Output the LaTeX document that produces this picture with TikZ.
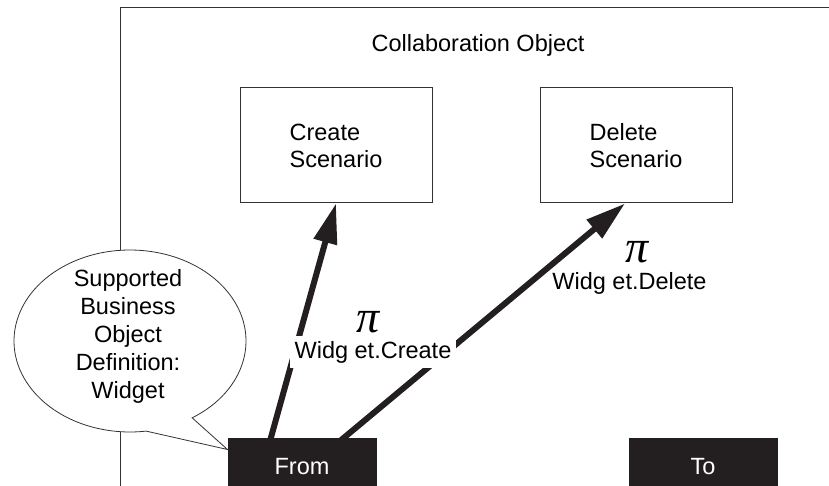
\documentclass[tikz,border=0pt]{standalone}
\usepackage{fontspec}
\setmainfont{Liberation Sans}
\newfontfamily\pifont{Liberation Serif}
\usepackage{xcolor}
\definecolor{PORTCOLOR}{HTML}{231F20}
\colorlet{LINECOLOR}{black!80}
\usepackage{tikz}
\usetikzlibrary{arrows.meta,positioning,calc}
\tikzset{
  basic-style/.style = {
    rectangle, draw=LINECOLOR, line width=1pt,
    font=\fontsize{23.5}{27}\selectfont,
    inner sep=0pt
  },
  scenario-style/.style = {
    basic-style, fill=white, align=left,
    minimum width=192pt, minimum height=115pt
  },
  port-style/.style = {
    basic-style, fill=PORTCOLOR, draw=PORTCOLOR, text=white,
    minimum width=148pt, minimum height=58pt
  },
  label-style/.style = {
    font=\fontsize{23.5}{28}\selectfont, inner sep=#1
  },
  label-style/.default = 0pt,
  pi-style/.style = {
    font=\fontsize{46}{46}\selectfont\pifont\itshape, inner sep=0pt
  },
  bubble-style/.style = {
    draw=LINECOLOR, line width=0.8pt, fill=white
  },
  frame-style/.style = {
    draw=LINECOLOR, line width=1pt
  },
  every edge/.style = {draw=PORTCOLOR, -{Triangle[length=40pt,width=23pt]}, line width=6pt}
}

\begin{document}
\begin{tikzpicture}[x=1pt,y=1pt]
    \useasboundingbox (0,0) rectangle (829,485);
    \clip (0,0) rectangle (829,485);

    %%% collaboration frame
    \draw[frame-style] (120,-10) |- (840,477);
    \node[label-style] (collabTitle) at (478,440) {Collaboration Object};

    %%% scenarios
    \node[scenario-style] (createBox) at (336,339.5) {Create\\Scenario};
    \node[scenario-style,right=107pt of createBox] (deleteBox) {Delete\\Scenario};

    %%% ports
    \coordinate (fromPos) at (302,18);
    \coordinate (bubbleC) at (130,144);

    %%% arrows
    \path ([xshift=-32pt,yshift=-3pt]fromPos |- 0,47) edge (createBox.south);
    \path ([xshift=38pt,yshift=-3pt]fromPos |- 0,47) edge ([xshift=-11pt]deleteBox.south);

    \node[port-style] (fromBox) at (fromPos) {From};
    \node[port-style,right=252pt of fromBox] (toBox) {To};

    %%% business object bubble
    \draw[bubble-style] ($(bubbleC)+(-57.6:116pt and 91pt)$)
      arc[start angle=-57.6, end angle=278, x radius=116, y radius=91]
      -- ([yshift=-12pt]fromBox.north west) -- cycle;
    \node[label-style,align=center] (bubbleText) at (128,149)
      {Supported\\Business\\Object\\Definition:\\Widget};

    %%% labels
    \node[pi-style] (createPi) at (368,163) {π};
    \node[label-style=5pt,fill=white] (createLabel) at (373,133) {Widg et.Create};
    \node[pi-style] (deletePi) at (637,233) {π};
    \node[label-style] (deleteLabel) at (629.5,202) {Widg et.Delete};
  \end{tikzpicture}
\end{document}
